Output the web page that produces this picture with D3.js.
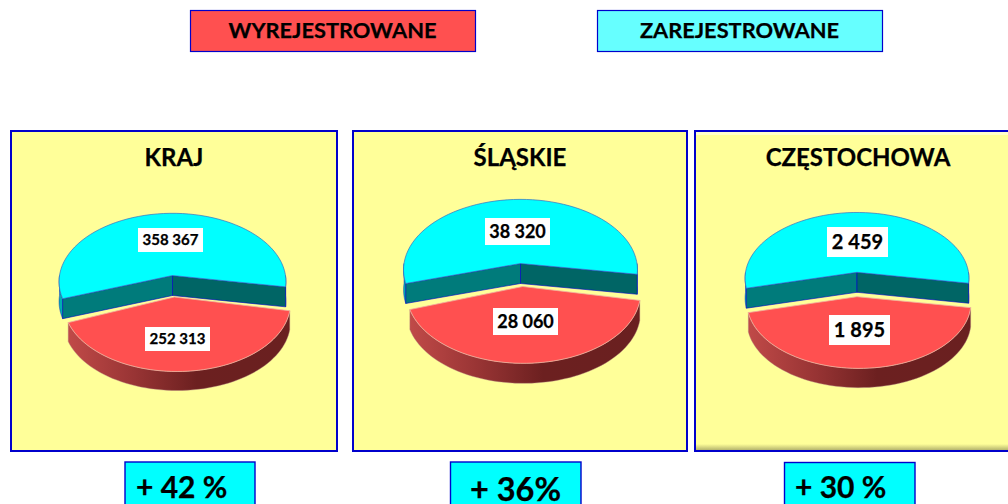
<!DOCTYPE html>
<html><head><meta charset="utf-8">
<script src="https://cdnjs.cloudflare.com/ajax/libs/d3/7.9.0/d3.min.js"></script>
<style>html,body{margin:0;padding:0;background:#fff;overflow:hidden}svg{display:block}text{font-family:Lato,sans-serif;font-weight:700;fill:#000;stroke:#000;stroke-width:.25px}</style>
</head><body><svg id="c" width="1008" height="504"></svg>
<script>
// Data
const seriesNames = ["WYREJESTROWANE", "ZAREJESTROWANE"];
const regions = ["KRAJ", "ŚLĄSKIE", "CZĘSTOCHOWA"];
const deregistered = [252313, 28060, 1895];
const registered = [358367, 38320, 2459];
const changeLabels = ["+ 42 %", "+ 36%", "+ 30 %"];

// Layout (separate from data)
const panels = [
 {x:11,y:131,w:326,h:320,tx:174,ty:166,ts:24,cx:172.5,cy:275.5,rcx:177,rcy:297,ax:174.3,R:113,t:.6,rot:100.5,pad:2,d:20,rd:19,fs:15,bw:65,bh:24,
  hi:[170.5,240],lo:[177.5,339],bx:125,by:462,bw2:130,px:136,py:497.5,ps:30},
 {x:353,y:131,w:334,h:320,tx:520,ty:166,ts:24,cx:520.5,cy:263.5,rcx:523.5,rcy:286.5,ax:522.7,R:116.5,t:.6,rot:100,pad:2.5,d:20,rd:20,fs:18,bw:65,bh:27,
  hi:[517.5,231.5],lo:[525.5,321.5],bx:450.5,by:462,bw2:130.5,px:470,py:501,ps:32.5},
 {x:695,y:131,w:316,h:320,tx:858,ty:166,ts:24,cx:857,cy:272.3,rcx:859,rcy:296.7,ax:857,R:111.5,t:.585,rot:99.5,pad:0,d:20,rd:19.3,fs:20,bw:61,bh:30,
  hi:[857.5,242],lo:[859.5,330],bx:784.5,by:462.5,bw2:130.5,px:795,py:498,ps:30}
];
const legends = [{x:190,y:10,w:285,h:41,c:"#ff5050"},{x:597,y:10,w:285,h:41,c:"#66ffff"}];
const K = 0.09, BLUE = "#0000cc", fmt = d3.formatLocale({thousands:" ",grouping:[3],decimal:","}).format(",d");

const svg = d3.select("#c");
const defs = svg.append("defs");
const g = defs.append("linearGradient").attr("id","wall");
[[0,"#c04a48"],[.3,"#983434"],[.58,"#6c2020"],[1,"#6a2020"]].forEach(s=>g.append("stop").attr("offset",s[0]).attr("stop-color",s[1]));
const sh = defs.append("linearGradient").attr("id","shadow").attr("x1",0).attr("x2",0).attr("y1",0).attr("y2",1);
[[0,"#ffff99"],[1,"#b5b56e"]].forEach(s=>sh.append("stop").attr("offset",s[0]).attr("stop-color",s[1]));

legends.forEach((l,i)=>{
  svg.append("rect").attr("x",l.x+.5).attr("y",l.y+.5).attr("width",l.w).attr("height",l.h).attr("fill",l.c).attr("stroke",BLUE).attr("stroke-width",1.2);
  svg.append("text").attr("x",l.x+l.w/2).attr("y",l.y+28).attr("text-anchor","middle").attr("font-size",21.8).text(seriesNames[i]);
});

const line = d3.line().x(d=>d[0]).y(d=>d[1]);
const rad = Math.PI/180;

panels.forEach((p,i)=>{
  svg.append("rect").attr("x",p.x).attr("y",p.y).attr("width",p.w).attr("height",p.h).attr("fill","#ffff99").attr("stroke",BLUE).attr("stroke-width",2);
  if(i===2){
    svg.append("rect").attr("x",p.x+1).attr("y",p.y+p.h-7).attr("width",p.w-2).attr("height",6).attr("fill","url(#shadow)");
    svg.append("rect").attr("x",p.x+1).attr("y",p.y+1).attr("width",p.w-2).attr("height",3).attr("fill","#ffffcc");
  }
  svg.append("text").attr("x",p.tx).attr("y",p.ty).attr("text-anchor","middle").attr("font-size",p.ts).text(regions[i]);

  const pie = d3.pie().sort(null).startAngle(p.rot*rad).endAngle((p.rot+360)*rad).padAngle(p.pad*rad);
  const arcs = pie([deregistered[i],registered[i]]);
  const trim = d=>[d.startAngle+d.padAngle/2, d.endAngle-d.padAngle/2];
  const [r0,r1] = trim(arcs[0]), [c0,c1] = trim(arcs[1]);
  const proj = (cx,cy)=>a=>{
    const u=Math.sin(a), v=-Math.cos(a), w=1-K*v;
    return [cx+p.R*u/w, cy+p.R*p.t*v/w];
  };
  const samples = (a0,a1)=>d3.range(0,61).map(j=>a0+(a1-a0)*j/60);

  // cyan slice: outer rim, inner walls, top surface
  const pc = proj(p.cx,p.cy), cc = [p.cx,p.cy];
  [[c0,Math.min(270*rad,c1)],[450*rad,c1]].forEach(([a0,a1])=>{
    if(a1<=a0) return;
    const top = samples(a0,a1).map(pc);
    const bot = top.map(q=>[q[0],q[1]+p.d]).reverse();
    svg.append("path").attr("d",line(top.concat(bot))+"Z").attr("fill","#00b0b0").attr("stroke",BLUE).attr("stroke-width",.4);
  });
  [[c0,"#007b7b"],[c1,"#006565"]].forEach(([a,c])=>{
    const e = pc(a);
    const quad=[cc,e,[e[0],e[1]+p.d],[cc[0],cc[1]+p.d]];
    svg.append("path").attr("d",line(quad)+"Z").attr("fill",c).attr("stroke",BLUE).attr("stroke-width",.6);
  });
  const topC = [cc].concat(samples(c0,c1).map(pc));
  svg.append("path").attr("d",line(topC)+"Z").attr("fill","#00ffff").attr("stroke","#3a6fc0").attr("stroke-width",.7);

  // red slice: side wall then top surface
  const pr = proj(p.rcx,p.rcy);
  const arc = samples(r0,r1).map(pr);
  const wall = arc.concat(arc.map(q=>[q[0],q[1]+p.rd]).reverse());
  svg.append("path").attr("d",line(wall)+"Z").attr("fill","url(#wall)").attr("stroke","#b08080").attr("stroke-width",.4);
  svg.append("path").attr("d",line([[p.ax,p.rcy]].concat(arc))+"Z").attr("fill","#ff5050").attr("stroke","#f0b0a0").attr("stroke-width",.8);

  // value labels
  [[registered[i],p.hi],[deregistered[i],p.lo]].forEach(([v,c])=>{
    svg.append("rect").attr("x",c[0]-p.bw/2).attr("y",c[1]-p.bh/2).attr("width",p.bw).attr("height",p.bh).attr("fill","#fff");
    svg.append("text").attr("x",c[0]).attr("y",c[1]+p.fs*.35).attr("text-anchor","middle").attr("font-size",p.fs).text(fmt(v));
  });

  // change box
  svg.append("rect").attr("x",p.bx).attr("y",p.by).attr("width",p.bw2).attr("height",60).attr("fill","#00ffff").attr("stroke",BLUE).attr("stroke-width",1.4);
  svg.append("text").attr("x",p.px).attr("y",p.py).attr("font-size",p.ps).text(changeLabels[i]);
});
</script></body></html>
